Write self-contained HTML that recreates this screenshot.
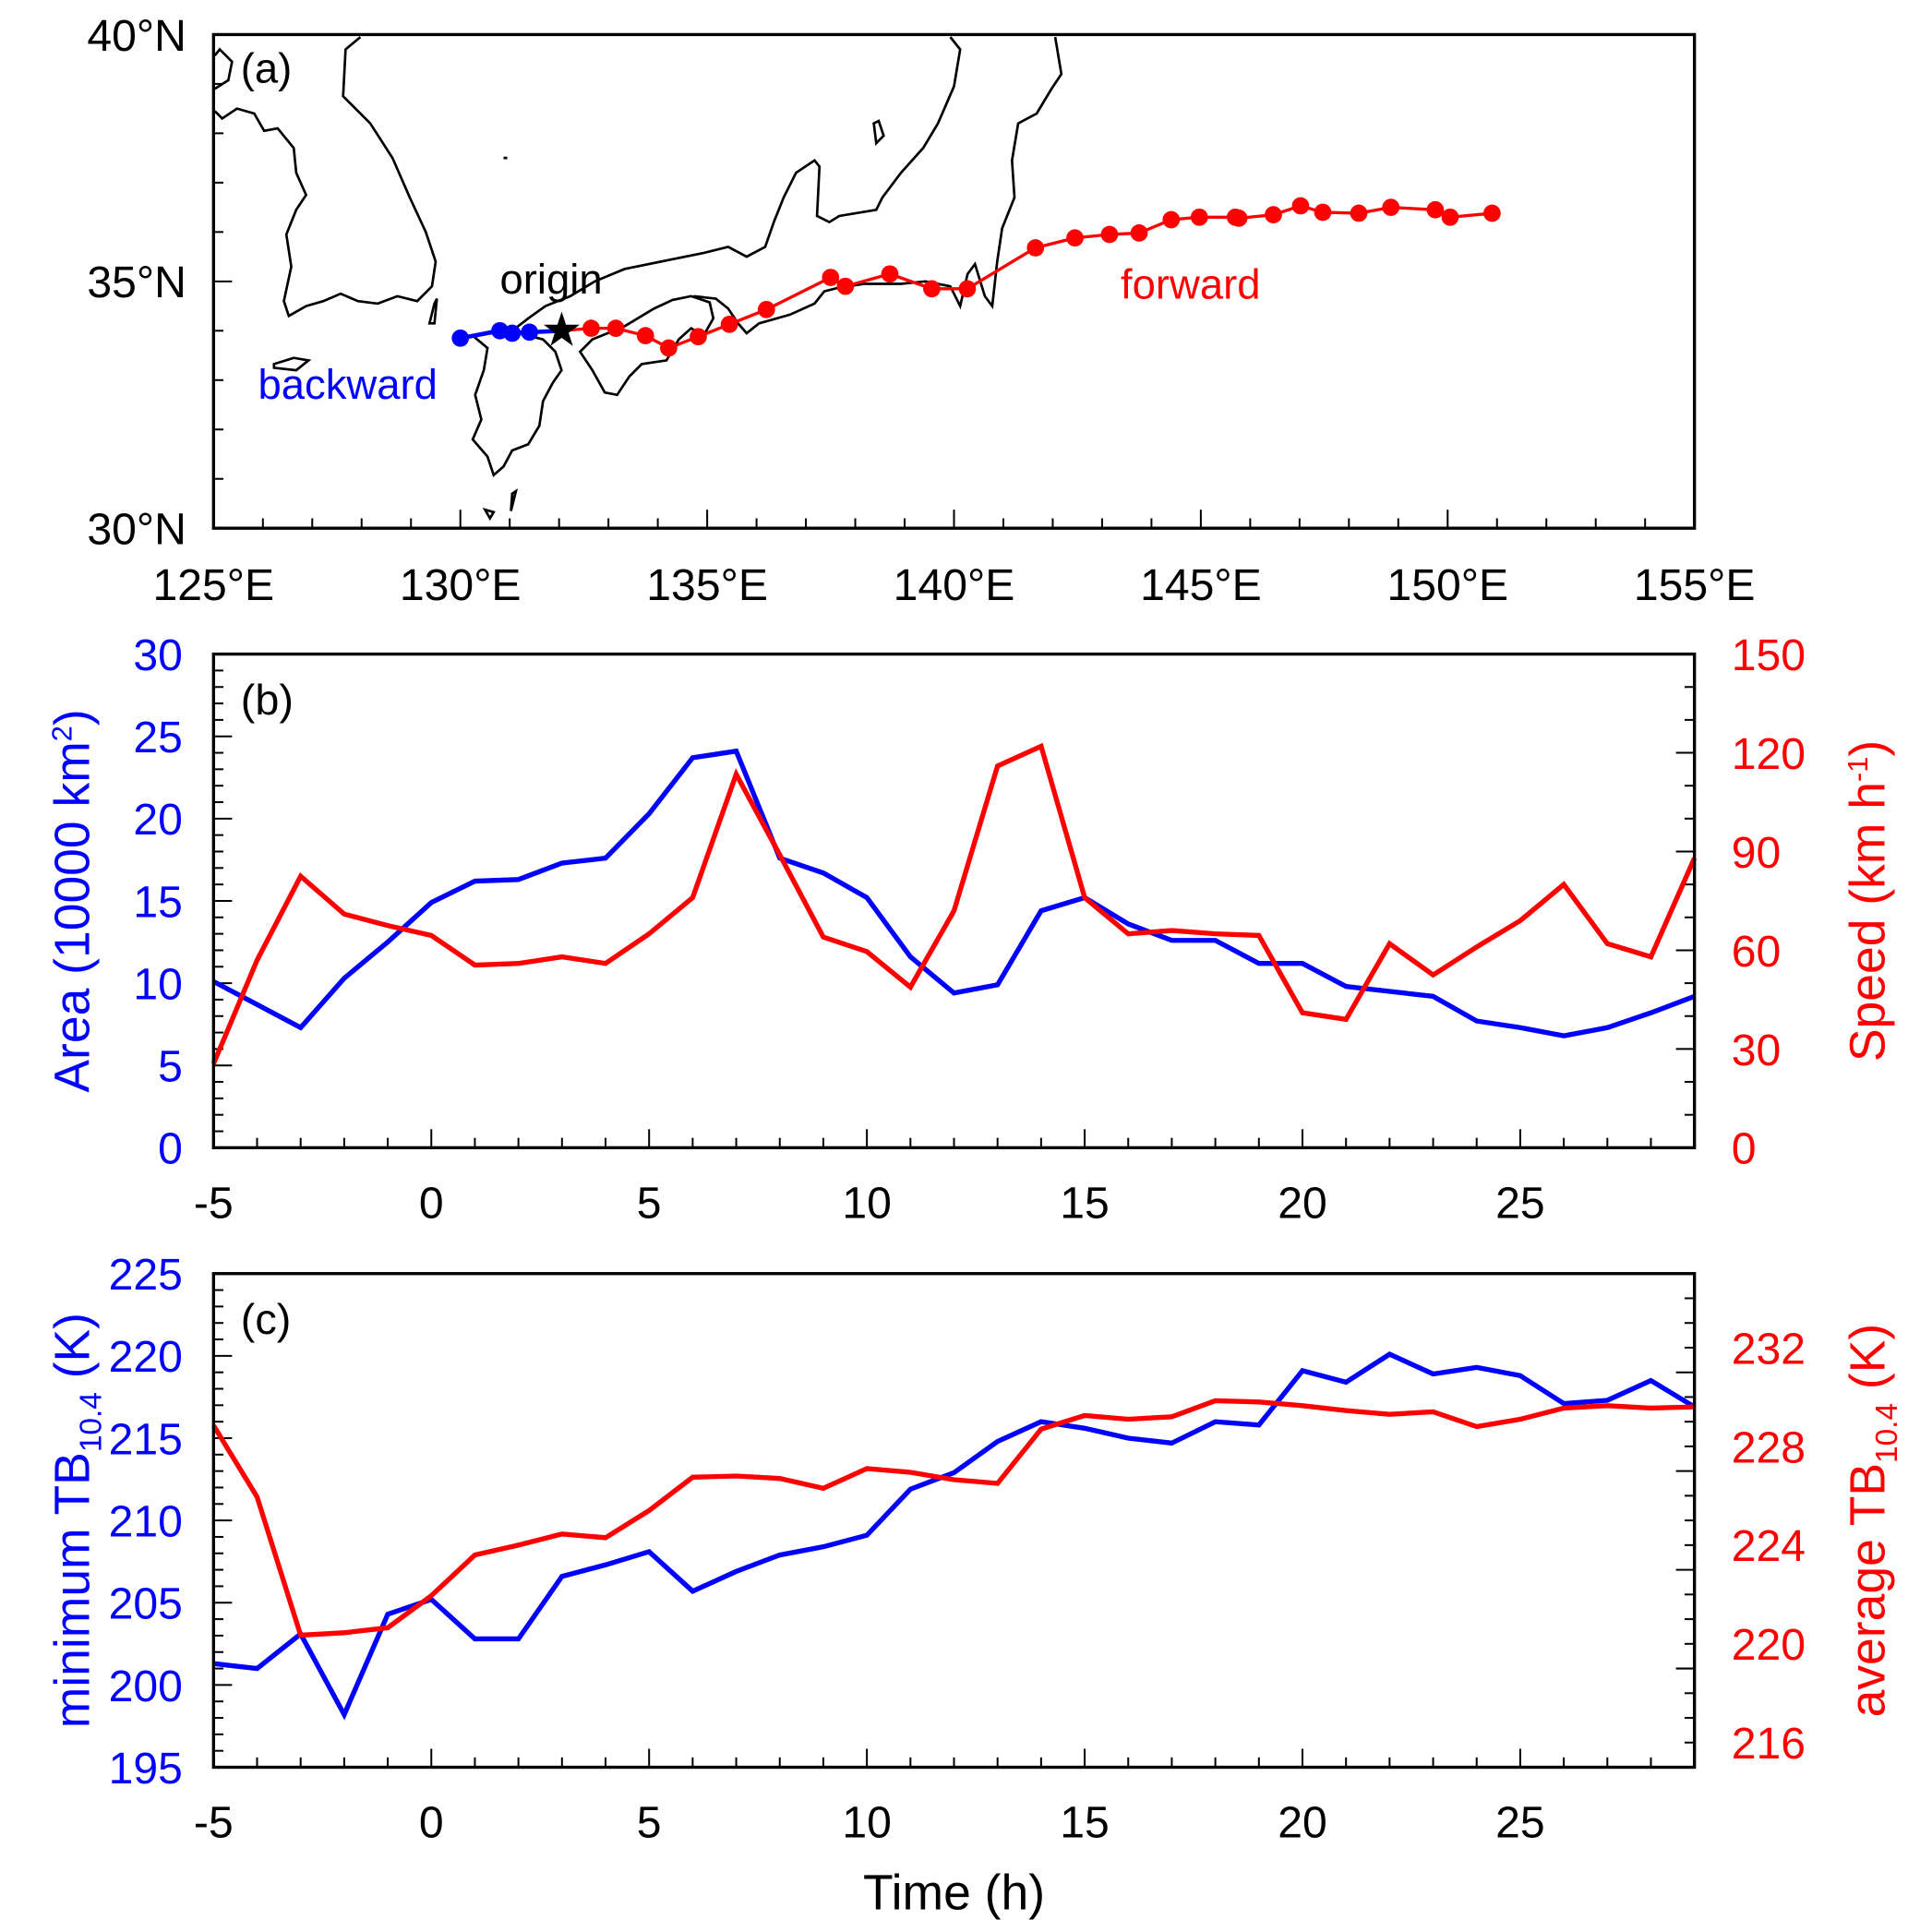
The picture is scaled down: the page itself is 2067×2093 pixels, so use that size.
<!DOCTYPE html>
<html><head><meta charset="utf-8"><style>
html,body{margin:0;padding:0;background:#fff}
svg{display:block}
text{font-family:"Liberation Sans",Arial,sans-serif}
</style></head><body>
<svg id="fig" width="2067" height="2093" viewBox="0 0 1546 1565.5" xmlns="http://www.w3.org/2000/svg">
<rect width="1546" height="1565.5" fill="#fff"/>
<g id="pa">
<g fill="none" stroke="#000" stroke-width="2">
<path d="M292,30 L280,40 L278,78 L300,100 L318,128 L332,160 L345,188 L353,212 L350,232 L338,244 L322,240 L306,246 L290,244 L276,238 L262,244 L248,248 L234,256 L230,244 L236,216 L232,190 L240,170 L248,158 L240,140 L238,120 L225,104 L214,106 L206,92 L192,88 L180,96 L174,90 M174,72 L185,65 L188,50 L178,40 L174,45"/>
<path d="M855,30 L860,60 L852,72 L840,92 L825,100 L820,130 L822,160 L812,185 L808,212 L804,248 L798,240 L790,214 L784,222 L778,248 L770,232 L750,228 L730,230 L700,230 L680,233 L668,236 L660,246 L640,255 L615,262 L605,270 L598,262 L590,250 L580,242 L562,240 M415,268 L428,258 L442,248 L462,240 L482,228 L506,218 L545,210 L570,205 L590,200 L605,208 L620,200 L627,180 L635,160 L645,140 L660,130 L664,135 L662,175 L672,180 L680,175 L710,170 L715,160 L730,140 L748,120 L760,100 L773,70 L778,40 L770,30"/>
<path d="M400,268 L383,272 L395,282 L392,300 L385,320 L390,340 L383,356 L395,370 L400,385 L408,378 L415,365 L428,360 L437,345 L440,325 L448,310 L455,300 L450,285 L440,275 L420,270 Z"/>
<path d="M470,285 L480,300 L490,318 L500,320 L510,305 L520,295 L540,292 L550,275 L560,266 L570,272 L578,258 L575,245 L560,240 L545,243 L530,250 L505,265 L480,275 Z"/>
<path d="M708,100 L712,98 L716,110 L710,116 Z M352,246 L354,242 L352,262 L348,262 Z M222,295 L238,290 L250,292 L240,300 L222,298 Z M393,413 L400,415 L397,420 Z M415,400 L418,398 L414,414 Z M408,128 L411,128"/>
</g>
<g id="pa-axes"></g>
<polyline id="track-back" fill="none" stroke="#00f" stroke-width="3.5"/>
<polyline id="track-fwd" fill="none" stroke="#f00" stroke-width="2.5"/>
<g id="dots"></g>
<text x="455" y="280" text-anchor="middle" font-size="38">★</text>
<text x="405" y="238" font-size="34">origin</text>
<text x="908" y="242" font-size="34" fill="#f00">forward</text>
<text x="209" y="323" font-size="34" fill="#00f">backward</text>
<text x="195" y="67" font-size="34">(a)</text>
</g>
<g id="pb"></g>
<g id="pc"></g>
</svg>
<script>
// ---- Panel (a) data ----
const backLon = [130.0, 130.8, 131.05, 131.4];
const backLat = [33.85, 34.0, 33.95, 33.97];
const originLon = 132.05, originLat = 34.0;
const fwdLon = [132.65,133.15,133.75,134.22,134.82,135.45,136.2,137.5,137.8,138.7,139.55,140.27,141.65,142.45,143.15,143.75,144.4,144.97,145.7,145.77,146.47,147.02,147.47,148.2,148.85,149.75,150.05,150.9];
const fwdLat = [34.05,34.05,33.9,33.65,33.88,34.13,34.43,35.08,34.9,35.15,34.85,34.85,35.68,35.88,35.95,35.98,36.25,36.3,36.3,36.28,36.35,36.53,36.4,36.38,36.5,36.45,36.3,36.38];
const lonTicks = [125,130,135,140,145,150,155];
const latTicks = [30,35,40];

// ---- Panel (b) data ----
const timeB = [-5,-4,-3,-2,-1,0,1,2,3,4,5,6,7,8,9,10,11,12,13,14,15,16,17,18,19,20,21,22,23,24,25,26,27,28,29];
const areaB = [10.1,8.7,7.3,10.3,12.5,14.9,16.2,16.3,17.3,17.6,20.3,23.7,24.1,17.6,16.7,15.2,11.6,9.4,9.9,14.4,15.2,13.6,12.6,12.6,11.2,11.2,9.8,9.5,9.2,7.7,7.3,6.8,7.3,8.2,9.2];
const speedB = [25.5,57,82.5,71,67.5,64.5,55.5,56,58,56,65,76,113.5,89,64,59.6,48.8,72,116,122,76,65,66,65,64.5,41,39,62,52.5,61,69,80,62,58,88];
const areaTicks = [0,5,10,15,20,25,30];
const speedTicks = [0,30,60,90,120,150];
const timeTicks = [-5,0,5,10,15,20,25];

// ---- Panel (c) data ----
const minTB = [201.3,201.0,203.1,198.2,204.3,205.2,202.8,202.8,206.6,207.3,208.1,205.7,206.9,207.9,208.4,209.1,211.9,212.9,214.8,216.0,215.6,215.0,214.7,216.0,215.8,219.1,218.4,220.1,218.9,219.3,218.8,217.1,217.3,218.5,216.9];
const avgTB = [228.85,225.95,220.35,220.45,220.65,221.95,223.6,224.0,224.45,224.3,225.4,226.75,226.8,226.7,226.3,227.1,226.95,226.65,226.5,228.7,229.25,229.1,229.2,229.85,229.8,229.65,229.45,229.3,229.4,228.8,229.1,229.55,229.65,229.55,229.6];
const minTicks = [195,200,205,210,215,220,225];
const avgTicks = [216,220,224,228,232];

const NS="http://www.w3.org/2000/svg";
function mk(tag, attrs, parent){const e=document.createElementNS(NS,tag);for(const k in attrs)e.setAttribute(k,attrs[k]);parent.appendChild(e);return e;}
const L=173,R=1373;

// panel a
const pa=document.getElementById('pa'), paAx=document.getElementById('pa-axes');
const aT=28,aB=428;
const lx=v=>L+(v-125)/30*(R-L);
const ly=v=>aB-(v-30)/10*(aB-aT);
let fr=mk('rect',{x:L,y:aT,width:R-L,height:aB-aT,fill:'none',stroke:'#000','stroke-width':2.5},paAx);


for(let v=126;v<155;v++){const x=lx(v);const len=v%5===0?15:8;mk('line',{x1:x,x2:x,y1:aB,y2:aB-len,stroke:'#000','stroke-width':1.5},paAx);}
for(let v=31;v<40;v++){const y=ly(v);const len=v%5===0?15:8;mk('line',{x1:L,x2:L+len,y1:y,y2:y,stroke:'#000','stroke-width':1.5},paAx);}
lonTicks.forEach(v=>{const t=mk('text',{x:lx(v),y:aB+58,'text-anchor':'middle','font-size':36},paAx);t.textContent=v+'°E';

});
latTicks.forEach(v=>{const t=mk('text',{x:L-22,y:ly(v)+13,'text-anchor':'end','font-size':36},paAx);t.textContent=v+'°N';

});
const bp=backLon.map((v,i)=>lx(v)+','+ly(backLat[i])).concat([lx(originLon)+','+ly(originLat)]);
document.getElementById('track-back').setAttribute('points',bp.join(' '));
const fp=[lx(originLon)+','+ly(originLat)].concat(fwdLon.map((v,i)=>lx(v)+','+ly(fwdLat[i])));
document.getElementById('track-fwd').setAttribute('points',fp.join(' '));
const dots=document.getElementById('dots');
backLon.forEach((v,i)=>{const c=mk('circle',{cx:lx(v),cy:ly(backLat[i]),r:7,fill:'#00f'},dots);

});
fwdLon.forEach((v,i)=>{const c=mk('circle',{cx:lx(v),cy:ly(fwdLat[i]),r:7,fill:'#f00'},dots);

});

// generic time panel
function panel(g,T,B,lMin,lMax,lMinorStep,lTicks,rMin,rMax,rMinorStep,rMajorStep,rTicks,s1,s2,label,titleL,titleR){
  const x=t=>L+(t+5)/34*(R-L);
  const yl=v=>B-(v-lMin)/(lMax-lMin)*(B-T);
  const yr=v=>B-(v-rMin)/(rMax-rMin)*(B-T);
  for(let t=-4;t<29;t++){const len=t%5===0?15:8;mk('line',{x1:x(t),x2:x(t),y1:B,y2:B-len,stroke:'#000','stroke-width':1.5},g);}
  for(let v=lMin+lMinorStep;v<lMax-1e-6;v+=lMinorStep){const len=Math.abs(v%5)<1e-6?15:8;mk('line',{x1:L,x2:L+len,y1:yl(v),y2:yl(v),stroke:'#000','stroke-width':1.5},g);}
  for(let v=rMin+rMinorStep;v<rMax-1e-6;v+=rMinorStep){const len=Math.abs((v-rMin)%rMajorStep)<1e-6?15:8;mk('line',{x1:R,x2:R-len,y1:yr(v),y2:yr(v),stroke:'#000','stroke-width':1.5},g);}
  const l1=mk('polyline',{points:timeB.map((t,i)=>x(t)+','+yl(s1[i])).join(' '),fill:'none',stroke:'#00f','stroke-width':4},g);
  
  
  const l2=mk('polyline',{points:timeB.map((t,i)=>x(t)+','+yr(s2[i])).join(' '),fill:'none',stroke:'#f00','stroke-width':4},g);
  
  
  const f=mk('rect',{x:L,y:T,width:R-L,height:B-T,fill:'none',stroke:'#000','stroke-width':2.5},g);
  
  
  timeTicks.forEach(v=>{const t=mk('text',{x:x(v),y:B+57,'text-anchor':'middle','font-size':36},g);t.textContent=v;
  
  });
  lTicks.forEach(v=>{const t=mk('text',{x:L-25,y:yl(v)+13,'text-anchor':'end','font-size':36,fill:'#00f'},g);t.textContent=v;
  
  });
  rTicks.forEach(v=>{const t=mk('text',{x:R+30,y:yr(v)+13,'text-anchor':'start','font-size':36,fill:'#f00'},g);t.textContent=v;
  
  });
  const pl=mk('text',{x:195,y:T+49,'font-size':35},g);pl.textContent=label;
  
  
  const tl=mk('text',{transform:`translate(72,${(T+B)/2}) rotate(-90)`,'text-anchor':'middle','font-size':40,fill:'#00f'},g);tl.innerHTML=titleL;
  
  
  const tr=mk('text',{transform:`translate(1527,${(T+B)/2}) rotate(-90)`,'text-anchor':'middle','font-size':40,fill:'#f00'},g);tr.innerHTML=titleR;
  
  
}
panel(document.getElementById('pb'),530,930,0,30,1,areaTicks,0,150,10,30,speedTicks,areaB,speedB,'(b)',
 'Area (10000 km<tspan dy="-14" font-size="23">2</tspan><tspan dy="14">)</tspan>',
 'Speed (km h<tspan dy="-14" font-size="23">-1</tspan><tspan dy="14">)</tspan>');
panel(document.getElementById('pc'),1032,1432,195,225,1,minTicks,215,235,1,4,avgTicks,minTB,avgTB,'(c)',
 'minimum TB<tspan dy="10" font-size="25">10.4</tspan><tspan dy="-10"> (K)</tspan>',
 'average TB<tspan dy="10" font-size="25">10.4</tspan><tspan dy="-10"> (K)</tspan>');
const xt=mk('text',{x:773,y:1547,'text-anchor':'middle','font-size':40},document.getElementById('pc'));
xt.textContent='Time (h)';


</script>
</body></html>
